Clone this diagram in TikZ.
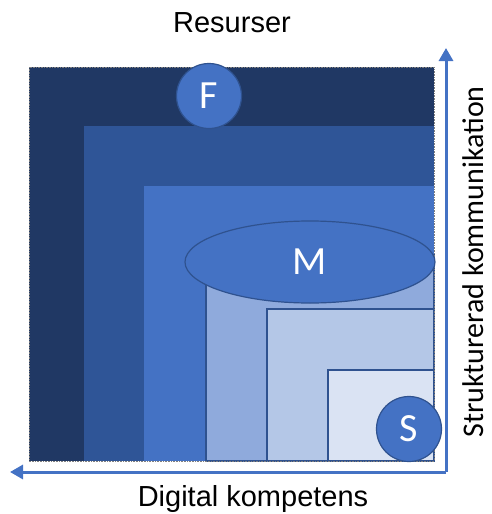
\documentclass[tikz,border=0pt]{standalone}
\usepackage{fontspec}
\setmainfont{Liberation Sans}
\newfontfamily\calfont{Carlito}
\usepackage{tikz}
\usetikzlibrary{arrows.meta,shapes.geometric}
\definecolor{LevelA}{HTML}{203864}
\definecolor{LevelB}{HTML}{2F5597}
\definecolor{LevelC}{HTML}{4472C4}
\definecolor{LevelD}{HTML}{8FAADC}
\definecolor{LevelE}{HTML}{B4C7E7}
\definecolor{LevelF}{HTML}{DAE3F3}
\definecolor{EdgeBlue}{HTML}{2F528F}

\begin{document}
\begin{tikzpicture}[
x=1pt,y=-1pt,
lvl/.style={draw=EdgeBlue,line width=1.4pt},
badge/.style={circle,fill=LevelC,draw=EdgeBlue,line width=1.2pt,minimum size=65pt,inner sep=0pt,text=white,font=\calfont\fontsize{40}{42}\selectfont},
axis/.style={draw=LevelC,line width=3pt,-{Triangle[length=13pt,width=14pt]}},
lbl/.style={font=\fontsize{29}{31}\selectfont,inner sep=0pt}
]
\useasboundingbox (0,0) rectangle (491,514);
% nested levels
\fill[LevelA] (29,67) rectangle (434,461);
\fill[LevelB] (84,126) rectangle (434,461);
\fill[LevelC] (144,186) rectangle (434,461);
\filldraw[lvl,fill=LevelD] (206,255) rectangle (434,461);
\filldraw[lvl,fill=LevelE] (267,309) rectangle (434,461);
\filldraw[lvl,fill=LevelF] (328,370) rectangle (434,461);
\draw[gray,densely dotted,line width=0.6pt] (29,67) rectangle (434,461);
% markers
\node[badge] (fnode) at (209,96) {F};
\node[ellipse,fill=LevelC,draw=EdgeBlue,line width=1.2pt,minimum width=250pt,minimum height=82pt,inner sep=0pt,text=white,font=\calfont\fontsize{40}{42}\selectfont] (mnode) at (310,262) {M};
\node[badge] (snode) at (409,429) {S};
% axes
\coordinate (corner) at (446,472);
\coordinate (ytip) at (446,48);
\coordinate (xtip) at (10,472);
\draw[axis] (corner) -- (ytip);
\draw[axis] (corner) -- (xtip);
\node[lbl] (top) at (232,23) {Resurser};
\node[lbl] (bottom) at (253,499) {Digital kompetens};
\node[lbl,font=\calfont\fontsize{30}{32}\selectfont,rotate=90] (side) at (473,262) {Strukturerad kommunikation};
\end{tikzpicture}
\end{document}
